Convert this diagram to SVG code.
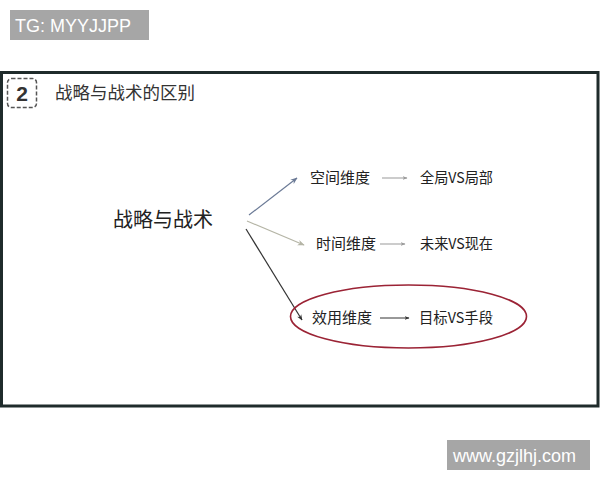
<svg xmlns="http://www.w3.org/2000/svg" width="600" height="480" viewBox="0 0 600 480">
<defs>
<style>
.cjk{font-family:"Noto Sans CJK SC","Noto Sans",sans-serif;fill:#222}
.lbl{font-size:15px}
.badge{fill:#a6a6a6}
.btxt{font-family:"Liberation Sans",Arial,sans-serif;font-size:18px;fill:#fff}
.conn{fill:none;stroke-width:1.2}
.small{fill:none;stroke-width:1}
</style>
<marker id="ah1" viewBox="0 0 10 10" refX="9" refY="5" markerWidth="7" markerHeight="7" orient="auto" markerUnits="userSpaceOnUse"><path d="M0,1 L10,5 L0,9 L3,5 Z" fill="#6b7a96"/></marker>
<marker id="ah2" viewBox="0 0 10 10" refX="9" refY="5" markerWidth="7" markerHeight="7" orient="auto" markerUnits="userSpaceOnUse"><path d="M0,1 L10,5 L0,9 L3,5 Z" fill="#b5b5a6"/></marker>
<marker id="ah3" viewBox="0 0 10 10" refX="9" refY="5" markerWidth="6" markerHeight="6" orient="auto" markerUnits="userSpaceOnUse"><path d="M0,1 L10,5 L0,9 L3,5 Z" fill="#333"/></marker>
<marker id="ah4" viewBox="0 0 10 10" refX="9" refY="5" markerWidth="5" markerHeight="5" orient="auto" markerUnits="userSpaceOnUse"><path d="M0,1 L10,5 L0,9 L3,5 Z" fill="#999"/></marker>
<marker id="ah5" viewBox="0 0 10 10" refX="9" refY="5" markerWidth="5" markerHeight="5" orient="auto" markerUnits="userSpaceOnUse"><path d="M0,1 L10,5 L0,9 L3,5 Z" fill="#333"/></marker>
</defs>
<rect width="600" height="480" fill="#fff"/>
<g id="tg-badge">
<rect class="badge" x="10" y="10" width="139" height="30"/>
<text class="btxt" x="15" y="32">TG: MYYJJPP</text>
</g>
<g id="frame">
<rect x="1.5" y="72.5" width="596.5" height="333.5" fill="#fff" stroke="#1f2b2b" stroke-width="3"/>
</g>
<g id="title">
<rect x="7.5" y="78.5" width="29" height="29" rx="4" fill="none" stroke="#555" stroke-width="1.5" stroke-dasharray="4,2"/>
<text x="22" y="101" text-anchor="middle" font-family="'Liberation Sans',Arial,sans-serif" font-weight="bold" font-size="21" fill="#333">2</text>
<text class="cjk" x="55" y="99" font-size="17.5" style="fill:#333">战略与战术的区别</text>
</g>
<g id="connectors">
<line class="conn" x1="249" y1="215" x2="297" y2="178" stroke="#6b7a96" marker-end="url(#ah1)"/>
<line class="conn" x1="247" y1="221" x2="304" y2="245" stroke="#b5b5a6" marker-end="url(#ah2)"/>
<line class="conn" x1="246" y1="229" x2="302" y2="320" stroke="#333" marker-end="url(#ah3)"/>
<line class="small" x1="382" y1="178" x2="407" y2="178" stroke="#999" marker-end="url(#ah4)"/>
<line class="small" x1="380" y1="244" x2="405" y2="244" stroke="#999" marker-end="url(#ah4)"/>
<line class="small" x1="380" y1="318" x2="409" y2="318" stroke="#333" marker-end="url(#ah5)"/>
</g>
<g id="node-main">
<text class="cjk" x="113" y="227" font-size="20">战略与战术</text>
</g>
<g id="node-space">
<text class="cjk lbl" x="310" y="183">空间维度</text>
<text class="cjk lbl" x="420" y="183" textLength="73" lengthAdjust="spacingAndGlyphs">全局VS局部</text>
</g>
<g id="node-time">
<text class="cjk lbl" x="316" y="249">时间维度</text>
<text class="cjk lbl" x="420" y="249" textLength="73" lengthAdjust="spacingAndGlyphs">未来VS现在</text>
</g>
<g id="node-effect">
<ellipse cx="408.5" cy="316.5" rx="118" ry="31.5" fill="none" stroke="#9b2335" stroke-width="1.6"/>
<text class="cjk lbl" x="312" y="323">效用维度</text>
<text class="cjk lbl" x="419" y="323" textLength="74" lengthAdjust="spacingAndGlyphs">目标VS手段</text>
</g>
<g id="watermark">
<rect class="badge" x="447" y="440" width="143" height="30"/>
<text class="btxt" x="453" y="462">www.gzjlhj.com</text>
</g>
</svg>
